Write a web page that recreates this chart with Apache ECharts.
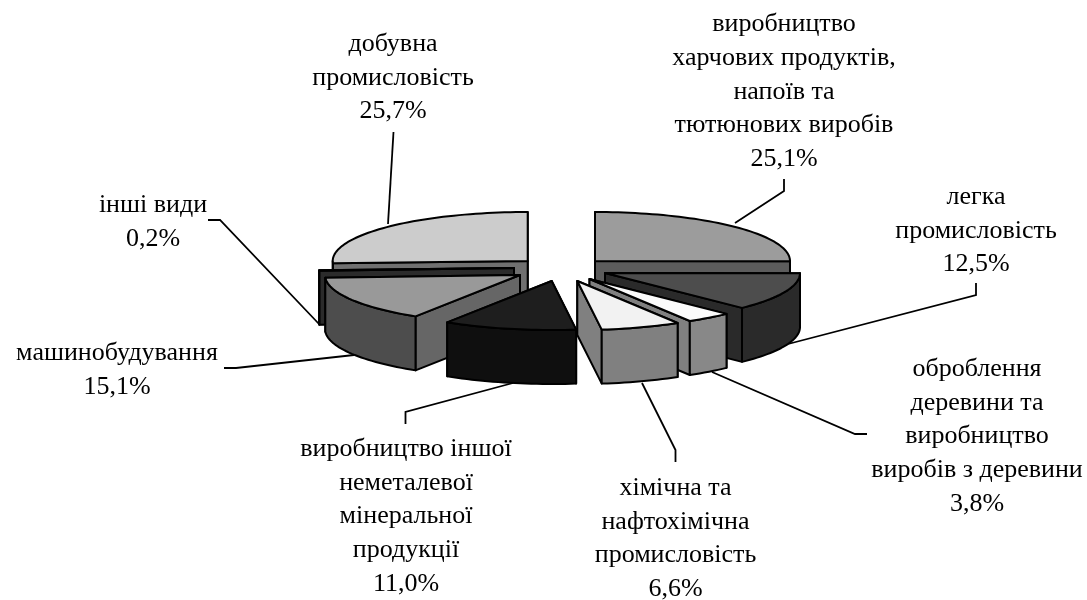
<!DOCTYPE html>
<html><head><meta charset="utf-8">
<style>html,body{margin:0;padding:0;background:#fff}#c{width:1087px;height:600px}</style>
<script src="https://cdn.jsdelivr.net/npm/echarts@6/dist/echarts.min.js"></script>
</head><body><div id="c"></div>
<script>
// Data, clockwise from 12 o'clock
const categories = [
  'виробництво\nхарчових продуктів,\nнапоїв та\nтютюнових виробів',
  'легка\nпромисловість',
  'оброблення\nдеревини та\nвиробництво\nвиробів з деревини',
  'хімічна та\nнафтохімічна\nпромисловість',
  'виробництво іншої\nнеметалевої\nмінеральної\nпродукції',
  'машинобудування',
  'інші види',
  'добувна\nпромисловість'
];
const values = [25.1, 12.5, 3.8, 6.6, 11.0, 15.1, 0.2, 25.7];

// Layout and style, separate from the data
const apexes = [[595,261],[605,273],[589.5,279],[577.3,281],[551.7,281],[520,275],[514,268],[527.7,261]];
const topFill  = ['#9c9c9c','#4d4d4d','#fbfbfb','#f2f2f2','#1e1e1e','#999999','#333333','#cccccc'];
const wallFill = ['#5c5c5c','#2a2a2a','#888888','#808080','#0f0f0f','#4d4d4d','#2b2b2b','#707070'];
const cutFill  = ['#5c5c5c','#2a2a2a','#808080','#808080','#0f0f0f','#666666','#2b2b2b','#707070'];
const drawOrder = [0,7,6,1,5,2,4,3];
const RX = 195, RY = 49, DEPTH = 54;
const labelAt = [[784,24.5],[976,197],[977,369],[675.5,488],[406,449],[117,353],[153,205],[393,44]];
const leaders = [
  [[784,179],[784,191],[735,223]],
  [[976,283],[976,295],[788,344]],
  [[712,372],[855,434],[867,434]],
  [[642,383],[675.5,450],[675.5,462]],
  [[513,383],[405.5,412],[405.5,424]],
  [[224,368],[236,368],[354,355]],
  [[208,220],[220,220],[319,324]],
  [[393.5,132],[388,224]]
];
const LINE_H = 33.7;
const FONT = '26px "Liberation Serif", "Times New Roman", serif';

const total = values.reduce((a,b)=>a+b,0);
const startPct = []; values.reduce((acc,v,i)=>{startPct[i]=acc; return acc+v;},0);
const toRad = p => p/total*2*Math.PI;

function rim(i, a){ return [apexes[i][0]+RX*Math.sin(a), apexes[i][1]-RY*Math.cos(a)]; }
function arc(i, a0, a1){
  const n = Math.max(2, Math.ceil(Math.abs(a1-a0)/0.03)), pts=[];
  for(let k=0;k<=n;k++) pts.push(rim(i, a0+(a1-a0)*k/n));
  return pts;
}
const down = p => [p[0], p[1]+DEPTH];
const stroke = {stroke:'#000', lineWidth:2, lineJoin:'round'};
function poly(points, fill){ return {type:'polygon', shape:{points}, style:Object.assign({fill}, stroke)}; }

function renderWedge(params, api){
  const i = api.value(2), a0 = toRad(api.value(1)), a1 = a0 + toRad(api.value(0));
  const c = apexes[i], children = [];
  const cut = a => { const r = rim(i,a); return {y:(c[1]+r[1])/2, el:poly([c,r,down(r),down(c)], cutFill[i])}; };
  const faces = [cut(a0), cut(a1)].sort((p,q)=>p.y-q.y);
  faces.forEach(f=>children.push(f.el));
  const w0 = Math.max(a0, Math.PI/2), w1 = Math.min(a1, 1.5*Math.PI);
  if(w1 > w0){
    const top = arc(i,w0,w1);
    children.push(poly(top.concat(top.map(down).reverse()), wallFill[i]));
  }
  children.push(poly([c].concat(arc(i,a0,a1)), topFill[i]));
  return {type:'group', children};
}
function renderLabel(params, api){
  const i = api.value(0), children = [];
  children.push({type:'polyline', shape:{points:leaders[i]}, style:{stroke:'#000', lineWidth:1.8, fill:null}});
  const lines = categories[i].split('\n').concat(values[i].toFixed(1).replace('.',',')+'%');
  lines.forEach((t,k)=>children.push({type:'text', style:{
    text:t, x:labelAt[i][0], y:labelAt[i][1]+k*LINE_H, textAlign:'center', textVerticalAlign:'middle', font:FONT, fill:'#000'
  }}));
  return {type:'group', children};
}

const chart = echarts.init(document.getElementById('c'), null, {renderer:'canvas'});
chart.setOption({
  animation:false, backgroundColor:'#fff',
  series:[
    {type:'custom', coordinateSystem:'none', z:2, renderItem:renderLabel, silent:true,
     data:categories.map((n,i)=>({name:n, value:[i]}))},
    {type:'custom', coordinateSystem:'none', z:3, renderItem:renderWedge, silent:true,
     data:drawOrder.map(i=>({name:categories[i], value:[values[i], startPct[i], i]}))}
  ]
});
</script></body></html>
